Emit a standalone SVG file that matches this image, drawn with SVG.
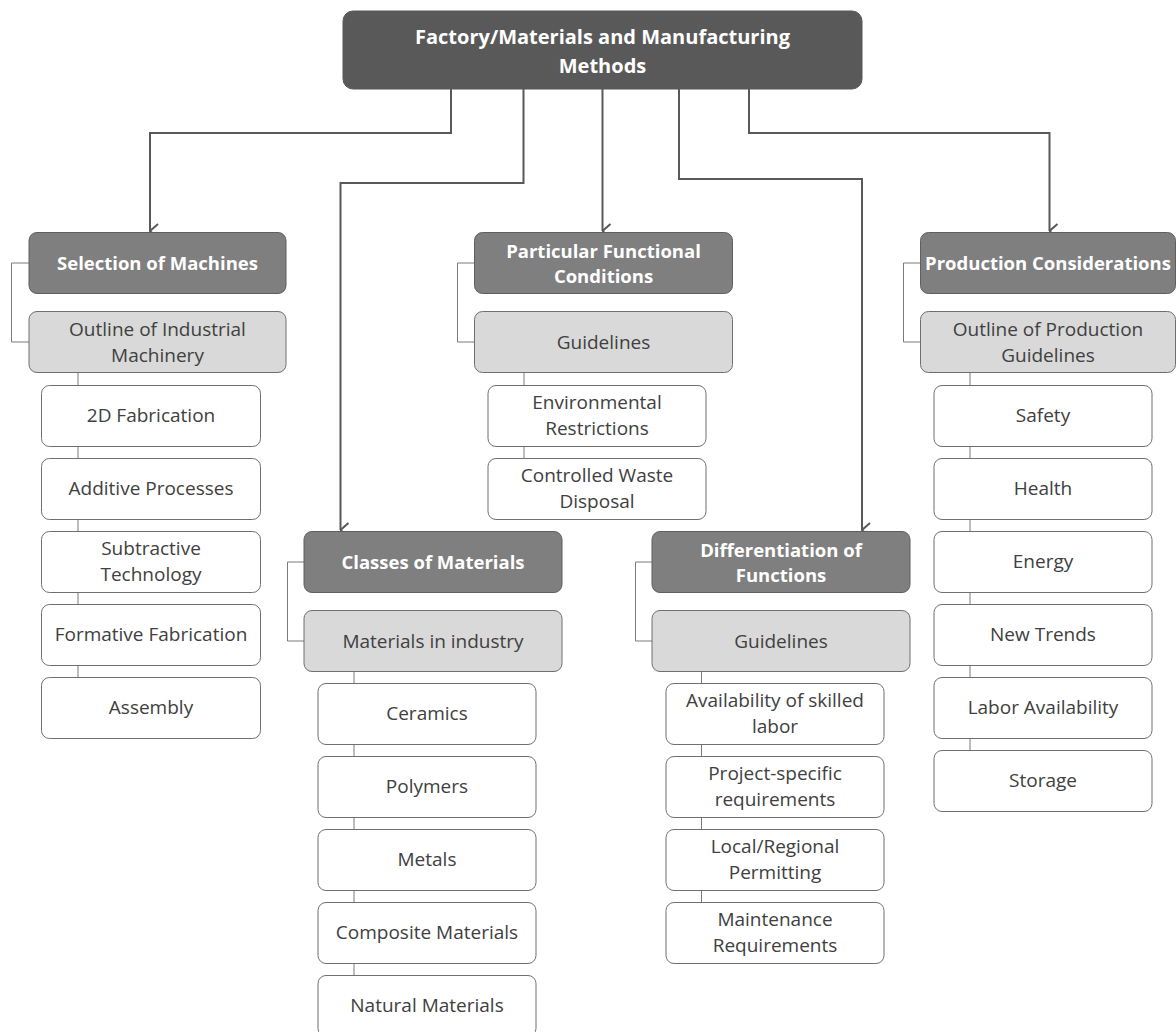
<svg xmlns="http://www.w3.org/2000/svg" width="1176" height="1032" viewBox="0 0 1176 1032">
<style>
text{font-family:"Open Sans","Liberation Sans",sans-serif;text-anchor:middle}
.root rect{fill:#595959;stroke:#595959}
.root text{fill:#fff;font-weight:bold;font-size:20px}
.hd rect{fill:#7f7f7f;stroke:#5f5f5f;stroke-width:1}
.hd text{fill:#fff;font-weight:bold;font-size:18.5px}
.sub rect{fill:#d9d9d9;stroke:#6f6f6f;stroke-width:1}
.sub text{fill:#404040;font-size:19px}
.it rect{fill:#fff;stroke:#6f6f6f;stroke-width:1}
.it text{fill:#404040;font-size:19px}
.arr{fill:none;stroke:#595959;stroke-width:2}
.br{fill:none;stroke:#7a7a7a;stroke-width:1}
</style>
<defs>
<marker id="ah" viewBox="0 0 16 10" refX="8" refY="9" markerWidth="16" markerHeight="10" markerUnits="userSpaceOnUse" orient="auto-start-reverse">
<path d="M1,1 L8,9 L15,1" fill="none" stroke="#595959" stroke-width="2"/>
</marker>
</defs>
<g id="connectors">
<path class="arr" d="M451,89 V133 H150 V231" marker-end="url(#ah)"/>
<path class="arr" d="M523.5,89 V183 H340.5 V530" marker-end="url(#ah)"/>
<path class="arr" d="M602.5,89 V231" marker-end="url(#ah)"/>
<path class="arr" d="M679,89 V179 H862 V530" marker-end="url(#ah)"/>
<path class="arr" d="M749,89 V133 H1049.5 V231" marker-end="url(#ah)"/>
<path class="br" d="M29,263 H11.5 V342 H29"/>
<path class="br" d="M78,372 V385 M78,446 V458 M78,519 V531 M78,592 V604 M78,665 V677"/>
<path class="br" d="M474,263 H457.5 V342 H474"/>
<path class="br" d="M524,372 V385 M524,446 V458"/>
<path class="br" d="M304,562 H287.5 V641 H304"/>
<path class="br" d="M354,672 V683 M354,744 V756 M354,817 V830 M354,891 V902 M354,963 V975"/>
<path class="br" d="M652,562 H635.5 V641 H652"/>
<path class="br" d="M701.5,672 V683 M701.5,744 V756 M701.5,817 V830 M701.5,891 V902"/>
<path class="br" d="M920,263 H903.5 V342 H920"/>
<path class="br" d="M970,372 V385 M970,446 V458 M970,519 V531 M970,592 V604 M970,665 V677 M970,738 V750"/>
</g>
<g id="root" class="root"><rect x="343" y="11" width="519" height="78" rx="10"/><text x="602.5" y="44">Factory/Materials and Manufacturing</text><text x="602.5" y="73">Methods</text></g>

<g id="selection" class="hd"><rect x="29" y="232.5" width="257" height="61" rx="8"/><text x="157.5" y="270">Selection of Machines</text></g>
<g id="outline-machinery" class="sub"><rect x="29" y="311.5" width="257" height="61" rx="8"/><text x="157.5" y="336">Outline of Industrial</text><text x="157.5" y="362">Machinery</text></g>
<g id="m1" class="it"><rect x="41.5" y="385.5" width="219" height="61" rx="8"/><text x="151" y="422">2D Fabrication</text></g>
<g id="m2" class="it"><rect x="41.5" y="458.5" width="219" height="61" rx="8"/><text x="151" y="495">Additive Processes</text></g>
<g id="m3" class="it"><rect x="41.5" y="531.5" width="219" height="61" rx="8"/><text x="151" y="555">Subtractive</text><text x="151" y="581">Technology</text></g>
<g id="m4" class="it"><rect x="41.5" y="604.5" width="219" height="61" rx="8"/><text x="151" y="641">Formative Fabrication</text></g>
<g id="m5" class="it"><rect x="41.5" y="677.5" width="219" height="61" rx="8"/><text x="151" y="714">Assembly</text></g>

<g id="particular" class="hd"><rect x="474.5" y="232.5" width="258" height="61" rx="8"/><text x="603.5" y="258">Particular Functional</text><text x="603.5" y="283">Conditions</text></g>
<g id="guidelines-1" class="sub"><rect x="474.5" y="311.5" width="258" height="61" rx="8"/><text x="603.5" y="349">Guidelines</text></g>
<g id="p1" class="it"><rect x="488" y="385.5" width="218" height="61" rx="8"/><text x="597" y="409">Environmental</text><text x="597" y="435">Restrictions</text></g>
<g id="p2" class="it"><rect x="488" y="458.5" width="218" height="61" rx="8"/><text x="597" y="482">Controlled Waste</text><text x="597" y="508">Disposal</text></g>

<g id="classes" class="hd"><rect x="304" y="531.5" width="258" height="61" rx="8"/><text x="433" y="569">Classes of Materials</text></g>
<g id="materials-industry" class="sub"><rect x="304" y="610.5" width="258" height="61" rx="8"/><text x="433" y="648">Materials in industry</text></g>
<g id="c1" class="it"><rect x="318" y="683.5" width="218" height="61" rx="8"/><text x="427" y="720">Ceramics</text></g>
<g id="c2" class="it"><rect x="318" y="756.5" width="218" height="61" rx="8"/><text x="427" y="793">Polymers</text></g>
<g id="c3" class="it"><rect x="318" y="829.5" width="218" height="61" rx="8"/><text x="427" y="866">Metals</text></g>
<g id="c4" class="it"><rect x="318" y="902.5" width="218" height="61" rx="8"/><text x="427" y="939">Composite Materials</text></g>
<g id="c5" class="it"><rect x="318" y="975.5" width="218" height="61" rx="8"/><text x="427" y="1012">Natural Materials</text></g>

<g id="differentiation" class="hd"><rect x="652" y="531.5" width="258" height="61" rx="8"/><text x="781" y="557">Differentiation of</text><text x="781" y="582">Functions</text></g>
<g id="guidelines-2" class="sub"><rect x="652" y="610.5" width="258" height="61" rx="8"/><text x="781" y="648">Guidelines</text></g>
<g id="d1" class="it"><rect x="666" y="683.5" width="218" height="61" rx="8"/><text x="775" y="707">Availability of skilled</text><text x="775" y="733">labor</text></g>
<g id="d2" class="it"><rect x="666" y="756.5" width="218" height="61" rx="8"/><text x="775" y="780">Project-specific</text><text x="775" y="806">requirements</text></g>
<g id="d3" class="it"><rect x="666" y="829.5" width="218" height="61" rx="8"/><text x="775" y="853">Local/Regional</text><text x="775" y="879">Permitting</text></g>
<g id="d4" class="it"><rect x="666" y="902.5" width="218" height="61" rx="8"/><text x="775" y="926">Maintenance</text><text x="775" y="952">Requirements</text></g>

<g id="production" class="hd"><rect x="920.5" y="232.5" width="255" height="61" rx="8"/><text x="1048" y="270">Production Considerations</text></g>
<g id="outline-production" class="sub"><rect x="920.5" y="311.5" width="255" height="61" rx="8"/><text x="1048" y="336">Outline of Production</text><text x="1048" y="362">Guidelines</text></g>
<g id="r1" class="it"><rect x="934" y="385.5" width="218" height="61" rx="8"/><text x="1043" y="422">Safety</text></g>
<g id="r2" class="it"><rect x="934" y="458.5" width="218" height="61" rx="8"/><text x="1043" y="495">Health</text></g>
<g id="r3" class="it"><rect x="934" y="531.5" width="218" height="61" rx="8"/><text x="1043" y="568">Energy</text></g>
<g id="r4" class="it"><rect x="934" y="604.5" width="218" height="61" rx="8"/><text x="1043" y="641">New Trends</text></g>
<g id="r5" class="it"><rect x="934" y="677.5" width="218" height="61" rx="8"/><text x="1043" y="714">Labor Availability</text></g>
<g id="r6" class="it"><rect x="934" y="750.5" width="218" height="61" rx="8"/><text x="1043" y="787">Storage</text></g>
</svg>
